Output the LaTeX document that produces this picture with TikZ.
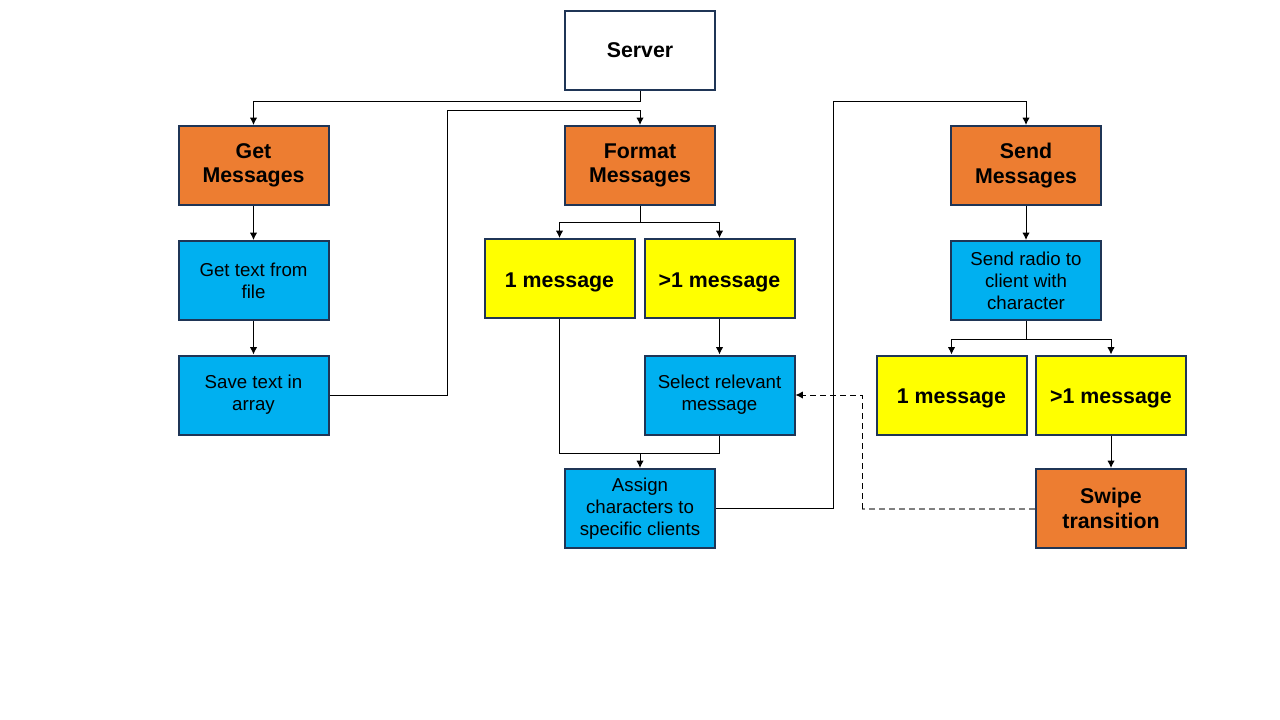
\documentclass[tikz,border=0pt]{standalone}
\usepackage{fontspec}
\setmainfont{Liberation Sans}
\usepackage{xcolor}
\usepackage{tikz}
\usetikzlibrary{shapes.geometric, arrows, arrows.meta}
\usetikzlibrary{positioning}
\definecolor{boxline}{HTML}{1F3556}
\definecolor{boxorange}{HTML}{ED7D31}
\definecolor{boxblue}{HTML}{00B0F0}
\definecolor{boxyellow}{HTML}{FFFF00}
\tikzstyle{box} = [rectangle, draw=boxline, line width=1.5pt, minimum width=112.5pt, minimum height=59.25pt, inner sep=1pt, align=center]
\tikzstyle{arrow} = [line width=0.75pt, -{Latex[length=5.5pt, width=5.5pt]}]
\tikzstyle{line} = [line width=0.75pt]
\tikzstyle{back} = [dash pattern=on 4.5pt off 3pt]

\begin{document}
\begin{tikzpicture}[x=0.75pt, y=-0.75pt]
		\useasboundingbox (0,0) rectangle (1280,720);
		\coordinate (server) at (640,50.5);
		\coordinate (getmsg) at (253.5,165.5);
		\coordinate (formatmsg) at (640,165.5);
		\coordinate (sendmsg) at (1026,165.5);
		\coordinate (gettext) at (253.5,280.5);
		\coordinate (savetext) at (253.5,395);
		\coordinate (onemsg) at (559.5,278.5);
		\coordinate (multimsg) at (719.5,278.5);
		\coordinate (selmsg) at (719.5,395);
		\coordinate (assign) at (640,508.5);
		\coordinate (sendradio) at (1026,280.5);
		\coordinate (onemsgb) at (951.5,395);
		\coordinate (multimsgb) at (1111,395);
		\coordinate (swipe) at (1111,508.5);
		% Bend points
		\coordinate (bendsave) at (447,111);
		\coordinate (bendassign) at (833,102);
		\coordinate (joinassign) at (640,453);
		\coordinate (bendswipe) at (862,508.5);
		% Server
		\begin{scope}[every node/.style={box, fill=white, font=\fontsize{16}{18.2}\selectfont\bfseries}]
		\node[name=server] at (server) {Server};
		\end{scope}
		% Main steps
		\begin{scope}[every node/.style={box, fill=boxorange, font=\fontsize{16}{18.2}\selectfont\bfseries}]
		\node[name=getmsg] at (getmsg) {Get\\Messages};
		\node[name=formatmsg] at (formatmsg) {Format\\Messages};
		\node[name=sendmsg] at (sendmsg) {Send\\Messages};
		\node[name=swipe] at (swipe) {Swipe\\transition};
		\end{scope}
		% Cases
		\begin{scope}[every node/.style={box, fill=boxyellow, font=\fontsize{16}{18.2}\selectfont\bfseries, execute at begin node={\rule{0pt}{1.02em}}}]
		\node[name=onemsg] at (onemsg) {1 message};
		\node[name=multimsg] at (multimsg) {>1 message};
		\node[name=onemsgb] at (onemsgb) {1 message};
		\node[name=multimsgb] at (multimsgb) {>1 message};
		\end{scope}
		% Actions
		\begin{scope}[every node/.style={box, fill=boxblue, font=\fontsize{14}{16.5}\selectfont}]
		\node[name=gettext] at (gettext) {Get text from\\file};
		\node[name=savetext] at (savetext) {Save text in\\array};
		\node[name=selmsg] at (selmsg) {Select relevant\\message};
		\node[name=assign] at (assign) {Assign\\characters to\\specific clients};
		\node[name=sendradio] at (sendradio) {Send radio to\\client with\\character};
		\end{scope}
		\draw [arrow] (server.south)--++(0,11) -| (getmsg.north);
		\draw [arrow] (getmsg)--(gettext);
		\draw [arrow] (gettext)--(savetext);
		\draw [arrow] (savetext.east) -| (bendsave) -| (formatmsg.north);
		\draw [arrow] (formatmsg.south)--++(0,17) -| (onemsg.north);
		\draw [arrow] (formatmsg.south)--++(0,17) -| (multimsg.north);
		\draw [arrow] (multimsg)--(selmsg);
		\draw [line] (onemsg.south) |- (joinassign);
		\draw [line] (selmsg.south) |- (joinassign);
		\draw [arrow] (joinassign)--(assign.north);
		\draw [arrow] (assign.east) -| (bendassign) -| (sendmsg.north);
		\draw [arrow] (sendmsg)--(sendradio);
		\draw [arrow] (sendradio.south)--++(0,18) -| (onemsgb.north);
		\draw [arrow] (sendradio.south)--++(0,18) -| (multimsgb.north);
		\draw [arrow] (multimsgb)--(swipe);
		% Dashed return
		\draw [back, line width=1.5pt, gray] (swipe.west)--(bendswipe);
		\draw [arrow, back] (bendswipe) |- (selmsg.east);
		\end{tikzpicture}
\end{document}
